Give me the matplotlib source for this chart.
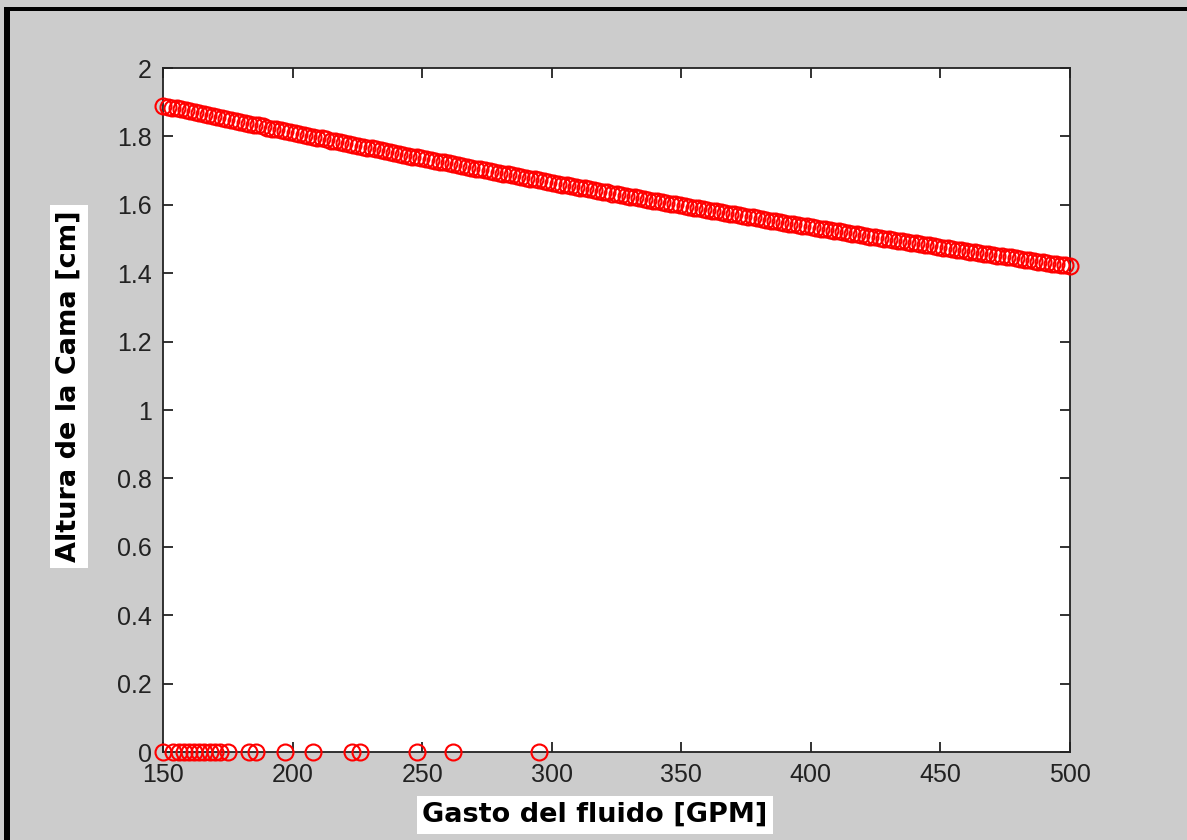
import numpy as np
import matplotlib
matplotlib.use("Agg")
import matplotlib.pyplot as plt
from matplotlib.patches import Rectangle

# Data
gasto = np.arange(150, 500.01, 1.75)  # GPM, 201 samples
altura = [
    1.890, 1.887, 1.884, 1.882, 1.879, 1.876, 1.873, 1.870, 1.867, 1.865,
    1.862, 1.859, 1.856, 1.854, 1.851, 1.848, 1.845, 1.843, 1.840, 1.837,
    1.834, 1.832, 1.829, 1.826, 1.823, 1.821, 1.818, 1.815, 1.813, 1.810,
    1.807, 1.804, 1.802, 1.799, 1.796, 1.794, 1.791, 1.788, 1.786, 1.783,
    1.781, 1.778, 1.775, 1.773, 1.770, 1.767, 1.765, 1.762, 1.760, 1.757,
    1.754, 1.752, 1.749, 1.747, 1.744, 1.741, 1.739, 1.736, 1.734, 1.731,
    1.729, 1.726, 1.724, 1.721, 1.719, 1.716, 1.714, 1.711, 1.709, 1.706,
    1.704, 1.701, 1.699, 1.696, 1.694, 1.691, 1.689, 1.686, 1.684, 1.681,
    1.679, 1.676, 1.674, 1.672, 1.669, 1.667, 1.664, 1.662, 1.659, 1.657,
    1.655, 1.652, 1.650, 1.648, 1.645, 1.643, 1.640, 1.638, 1.636, 1.633,
    1.631, 1.629, 1.626, 1.624, 1.622, 1.619, 1.617, 1.615, 1.612, 1.610,
    1.608, 1.606, 1.603, 1.601, 1.599, 1.596, 1.594, 1.592, 1.590, 1.587,
    1.585, 1.583, 1.581, 1.578, 1.576, 1.574, 1.572, 1.569, 1.567, 1.565,
    1.563, 1.561, 1.558, 1.556, 1.554, 1.552, 1.550, 1.548, 1.545, 1.543,
    1.541, 1.539, 1.537, 1.535, 1.533, 1.530, 1.528, 1.526, 1.524, 1.522,
    1.520, 1.518, 1.516, 1.514, 1.512, 1.509, 1.507, 1.505, 1.503, 1.501,
    1.499, 1.497, 1.495, 1.493, 1.491, 1.489, 1.487, 1.485, 1.483, 1.481,
    1.479, 1.477, 1.475, 1.473, 1.471, 1.469, 1.467, 1.465, 1.463, 1.461,
    1.459, 1.457, 1.455, 1.453, 1.451, 1.449, 1.447, 1.446, 1.444, 1.442,
    1.440, 1.438, 1.436, 1.434, 1.432, 1.430, 1.428, 1.427, 1.425, 1.423,
    1.421,
]
gasto_cero = [150, 154, 156, 158, 160, 162, 164, 166, 168, 170, 172, 175,
              183, 186, 197, 208, 223, 226, 248, 262, 295]
altura_cero = [0.0] * len(gasto_cero)

xticks = [150, 200, 250, 300, 350, 400, 450, 500]
yticks = [0, 0.2, 0.4, 0.6, 0.8, 1.0, 1.2, 1.4, 1.6, 1.8, 2.0]
yticklabels = ["0", "0.2", "0.4", "0.6", "0.8", "1", "1.2", "1.4", "1.6", "1.8", "2"]

plt.rcParams['font.family'] = ['Liberation Sans', 'DejaVu Sans']

fig = plt.figure(figsize=(11.87, 8.40), dpi=100, facecolor='#cccccc')
ax = fig.add_axes([163/1187, 1-752/840, (1070-163)/1187, (752-68)/840])
ax.set_facecolor('white')

mk = dict(linestyle='none', marker='o', markersize=11.5, markerfacecolor='none',
          markeredgecolor='#ff0000', markeredgewidth=1.5, clip_on=False, zorder=3)
ax.plot(gasto, altura, **mk)
ax.plot(gasto_cero, altura_cero, **mk)

ax.set_xlim(150, 500)
ax.set_ylim(0, 2)
ax.set_xticks(xticks)
ax.set_xticklabels([str(t) for t in xticks])
ax.set_yticks(yticks)
ax.set_yticklabels(yticklabels)
ax.tick_params(direction='in', length=7, width=1.3, top=True, right=True,
               labelsize=18, colors='#222222')
ax.tick_params(axis='x', pad=8)
ax.tick_params(axis='y', pad=8)
for s in ax.spines.values():
    s.set_linewidth(1.3)
    s.set_color('#222222')

lab = dict(fontsize=19.5, fontweight='bold', family=['DejaVu Sans'],
           bbox=dict(facecolor='white', edgecolor='none', pad=4))
ax.set_xlabel("Gasto del fluido [GPM]", **lab)
ax.set_ylabel("Altura de la Cama [cm]", **lab)
ax.xaxis.label.set_va('center')
ax.xaxis.set_label_coords((595-163)/907, (752-815)/684)
ax.yaxis.label.set_va('center')
ax.yaxis.label.set_ha('center')
ax.yaxis.set_label_coords((69-163)/907, (752-386)/684)

# black frame on the top and left edge of the screenshot
fig.patches.append(Rectangle((4/1187, 0), 6/1187, 1 - 7/840, transform=fig.transFigure,
                             facecolor='black', edgecolor='none'))
fig.patches.append(Rectangle((4/1187, 1 - 11/840), 1, 4/840, transform=fig.transFigure,
                             facecolor='black', edgecolor='none'))

fig.savefig("out.png", dpi=100, facecolor=fig.get_facecolor())
